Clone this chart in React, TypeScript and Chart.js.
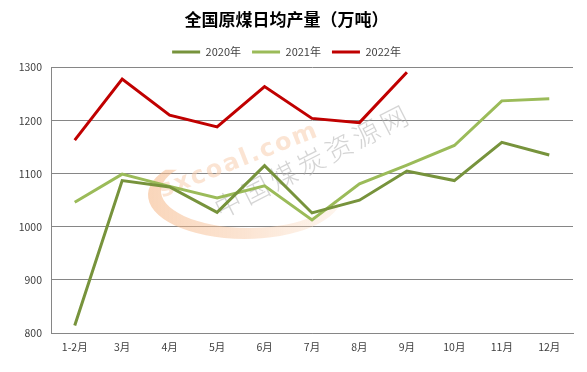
import React, { useEffect, useRef } from "react";
import { Chart, registerables } from "chart.js";

Chart.register(...registerables);

const titleText = "全国原煤日均产量（万吨）";
const categories = ["1-2月", "3月", "4月", "5月", "6月", "7月", "8月", "9月", "10月", "11月", "12月"];
const seriesNames = ["2020年", "2021年", "2022年"];
const values2020 = [814, 1087, 1075, 1027, 1115, 1026, 1050, 1105, 1087, 1159, 1135];
const values2021 = [1046, 1099, 1076, 1054, 1077, 1013, 1081, 1116, 1153, 1237, 1241];
const values2022 = [1163, 1278, 1210, 1188, 1264, 1204, 1196, 1291];
const yMin = 800;
const yMax = 1300;
const yStep = 100;
const seriesColors = ["#77933C", "#9BBB59", "#C00000"];
const watermarkLatin = "sxcoal.com";
const watermarkChinese = "中国煤炭资源网";

const FONT = '"Noto Sans CJK SC", "Noto Sans", sans-serif';

const watermarkPlugin = {
  id: "watermark",
  beforeDatasetsDraw(chart: any) {
    const ctx = chart.ctx as CanvasRenderingContext2D;
    ctx.save();
    // orange swoosh
    const grad = ctx.createLinearGradient(148, 0, 340, 0);
    grad.addColorStop(0, "rgba(245,180,130,0.55)");
    grad.addColorStop(0.5, "rgba(247,195,155,0.45)");
    grad.addColorStop(1, "rgba(250,215,185,0.25)");
    ctx.fillStyle = grad;
    const d2r = Math.PI / 180;
    ctx.beginPath();
    ctx.ellipse(245, 195, 97, 44, 0, 215 * d2r, 14 * d2r, true);
    ctx.ellipse(249, 191, 88, 37, 0, 14 * d2r, 215 * d2r, false);
    ctx.closePath();
    ctx.fill();

    // latin text
    ctx.save();
    ctx.translate(160, 192);
    ctx.rotate(-21.5 * d2r);
    ctx.font = 'bold 24px "DejaVu Sans", sans-serif';
    (ctx as any).letterSpacing = "2px";
    ctx.fillStyle = "rgba(248,205,175,0.55)";
    ctx.textBaseline = "middle";
    ctx.textAlign = "left";
    ctx.fillText(watermarkLatin, 0, 0);
    ctx.restore();

    // chinese text
    ctx.save();
    ctx.translate(216, 210);
    ctx.rotate(-27 * d2r);
    ctx.font = '300 27px "Noto Sans CJK SC", sans-serif';
    (ctx as any).letterSpacing = "4px";
    ctx.fillStyle = "rgba(170,170,170,0.5)";
    ctx.textBaseline = "middle";
    ctx.textAlign = "left";
    ctx.fillText(watermarkChinese, 0, 0);
    ctx.restore();

    ctx.restore();
  },
};

export default function App() {
  const canvasRef = useRef<HTMLCanvasElement | null>(null);

  useEffect(() => {
    if (!canvasRef.current) return;
    const seriesValues = [values2020, values2021, values2022];
    const chart = new Chart(canvasRef.current, {
      type: "line",
      data: {
        labels: categories,
        datasets: seriesNames.map((name, i) => ({
          label: name,
          data: seriesValues[i],
          borderColor: seriesColors[i],
          backgroundColor: seriesColors[i],
          borderWidth: 3,
          pointRadius: 0,
          pointHoverRadius: 0,
          tension: 0,
          fill: false,
        })),
      },
      options: {
        animation: false,
        responsive: false,
        devicePixelRatio: 1,
        layout: { padding: { left: 0, right: 14, top: 0, bottom: 0 } },
        plugins: {
          title: {
            display: true,
            text: titleText,
            color: "#000000",
            font: { family: FONT, size: 17, weight: "bold" },
            padding: { top: 9, bottom: 6 },
          },
          legend: {
            display: true,
            position: "top",
            labels: {
              usePointStyle: true,
              pointStyle: "line",
              pointStyleWidth: 28,
              color: "#404040",
              font: { family: FONT, size: 11 },
              padding: 11,
            },
          },
          tooltip: { enabled: false },
        },
        scales: {
          x: {
            offset: true,
            grid: { display: false, drawTicks: false },
            border: { display: true, color: "#868686", width: 1 },
            ticks: {
              color: "#404040",
              font: { family: FONT, size: 10.5 },
              padding: 8,
              maxRotation: 0,
              autoSkip: false,
            },
            afterFit(scale: any) {
              scale.height = 39;
            },
          },
          y: {
            min: yMin,
            max: yMax,
            grid: { color: "#868686", lineWidth: 1, drawTicks: false },
            border: { display: true, color: "#868686", width: 1 },
            ticks: {
              stepSize: yStep,
              color: "#404040",
              font: { family: FONT, size: 10.5 },
              padding: 9,
              callback: (v: any) => String(v),
            },
            afterFit(scale: any) {
              scale.width = 51;
            },
          },
        },
      },
      plugins: [watermarkPlugin],
    });
    return () => chart.destroy();
  }, []);

  return (
    <div style={{ position: "fixed", left: 0, top: 0, width: 587, height: 372, background: "#ffffff" }}>
      <canvas ref={canvasRef} width={587} height={372} style={{ display: "block" }} />
    </div>
  );
}
